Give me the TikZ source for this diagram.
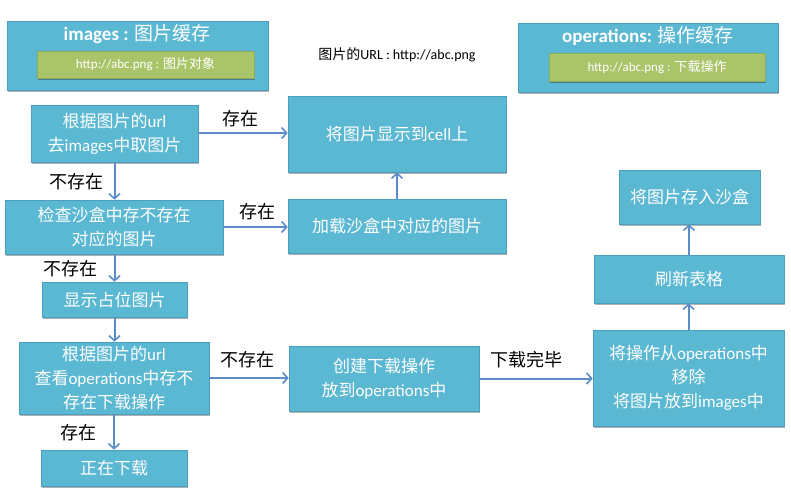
\documentclass[tikz,border=0pt]{standalone}
\usepackage{fontspec}
\setmainfont{Carlito}
\newfontfamily\cjk{Noto Sans CJK SC}
\usetikzlibrary{arrows.meta,shadows}
\definecolor{boxblue}{HTML}{5BB8D3}
\definecolor{boxedge}{HTML}{4C9DBE}
\definecolor{boxgreen}{HTML}{AAC46A}
\definecolor{greenedge}{HTML}{8EA95A}
\definecolor{arrowblue}{HTML}{5B8DC9}
\tikzset{
  box/.style={draw=boxedge, line width=0.6pt, fill=boxblue, text=white, align=center,
    inner sep=0pt, font=\fontsize{17}{24}\selectfont,
    drop shadow={shadow xshift=0.6pt, shadow yshift=-1.6pt, opacity=0.3, fill=black}},
  gbox/.style={draw=greenedge, line width=0.6pt, fill=boxgreen, text=white, align=center,
    inner sep=0pt, font=\fontsize{13}{16}\selectfont,
    drop shadow={shadow xshift=0.6pt, shadow yshift=-1.6pt, opacity=0.3, fill=black}},
  titletext/.style={text=white, font=\fontsize{19}{22}\selectfont\bfseries, inner sep=0pt},
  lbl/.style={text=black, font=\fontsize{18}{20}\selectfont\cjk, inner sep=0pt},
  conn/.style={draw=arrowblue, line width=2pt, -{Straight Barb[length=5pt,width=11pt,line width=1.6pt]}},
}
\begin{document}
\begin{tikzpicture}[x=1pt,y=-1pt]
\useasboundingbox (0,0) rectangle (791,496);
% caches
\node[box, minimum width=261pt, minimum height=69pt] (img) at (137.5,55.5) {};
\node[titletext] (imgt) at (137,34) {images : {\mdseries\cjk 图片缓存}};
\node[gbox, minimum width=217pt, minimum height=27pt] (imgg) at (145.5,64.5) {http://abc.png : {\cjk 图片对象}};
\node[box, minimum width=260pt, minimum height=69pt] (op) at (648,57.5) {};
\node[titletext] (opt) at (648,36) {operations: {\mdseries\cjk 操作缓存}};
\node[gbox, minimum width=216pt, minimum height=28pt] (opg) at (657,67) {http://abc.png : {\cjk 下载操作}};
\node[text=black, inner sep=0pt, font=\fontsize{14}{16}\selectfont] (url) at (397,55) {{\cjk 图片的}URL : http://abc.png};
% flow
\node[box, minimum width=167pt, minimum height=57pt] (A) at (114.5,133.5) {{\cjk 根据图片的}url\\{\cjk 去}images{\cjk 中取图片}};
\node[box, minimum width=218pt, minimum height=76pt] (B) at (397,134) {{\cjk 将图片显示到}cell{\cjk 上}};
\node[box, minimum width=218pt, minimum height=54pt] (C) at (114,227) {{\cjk 检查沙盒中存不存在}\\{\cjk 对应的图片}};
\node[box, minimum width=218pt, minimum height=54pt] (D) at (397,226) {{\cjk 加载沙盒中对应的图片}};
\node[box, minimum width=145pt, minimum height=35pt] (E) at (114.5,299.5) {{\cjk 显示占位图片}};
\node[box, minimum width=190pt, minimum height=72pt] (F) at (114,378) {{\cjk 根据图片的}url\\{\cjk 查看}operations{\cjk 中存不}\\{\cjk 存在下载操作}};
\node[box, minimum width=190pt, minimum height=65pt] (G) at (384,378.5) {{\cjk 创建下载操作}\\{\cjk 放到}operations{\cjk 中}};
\node[box, minimum width=191pt, minimum height=96pt] (H) at (688.5,378) {{\cjk 将操作从}operations{\cjk 中}\\{\cjk 移除}\\{\cjk 将图片放到}images{\cjk 中}};
\node[box, minimum width=146pt, minimum height=36pt] (I) at (114,468) {{\cjk 正在下载}};
\node[box, minimum width=190pt, minimum height=48pt] (J) at (689,279) {{\cjk 刷新表格}};
\node[box, minimum width=141pt, minimum height=54pt] (K) at (689.5,197) {{\cjk 将图片存入沙盒}};
% connectors
\draw[conn] (A.east |- 0,133) -- (B.west |- 0,133);
\draw[conn] (A.south) -- (A.south |- C.north);
\draw[conn] (C.east) -- (C.east -| D.west);
\draw[conn] (D.north) -- (D.north |- B.south);
\draw[conn] (C.south -| E.north) -- (E.north);
\draw[conn] (E.south) -- (E.south |- F.north);
\draw[conn] (F.south) -- (F.south |- I.north);
\draw[conn] (F.east) -- (F.east -| G.west);
\draw[conn] (G.east) -- (G.east -| H.west);
\draw[conn] (H.north) -- (H.north |- J.south);
\draw[conn] (J.north) -- (J.north |- K.south);
% labels
\node[lbl] (l1) at (240,119) {存在};
\node[lbl] (l2) at (76,182) {不存在};
\node[lbl] (l3) at (257,212) {存在};
\node[lbl] (l4) at (70,269) {不存在};
\node[lbl] (l5) at (247,360) {不存在};
\node[lbl] (l6) at (526,360) {下载完毕};
\node[lbl] (l7) at (78,433) {存在};
\end{tikzpicture}
\end{document}
